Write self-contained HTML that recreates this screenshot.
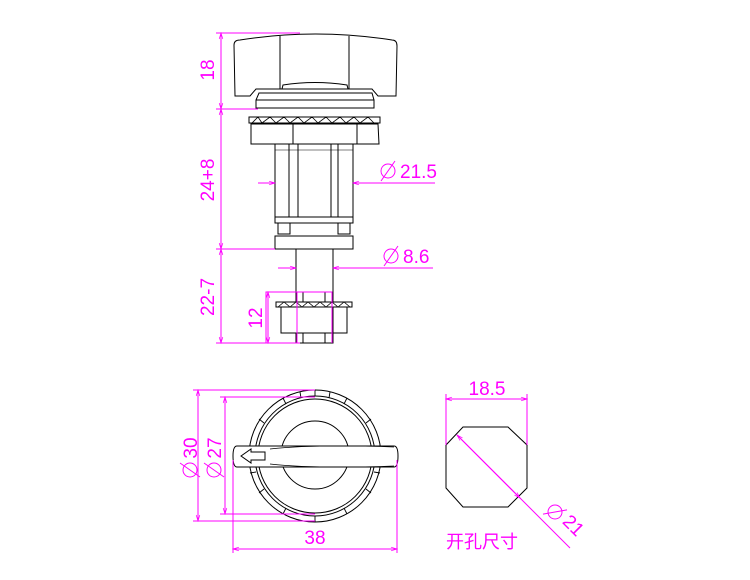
<!DOCTYPE html>
<html><head><meta charset="utf-8"><style>
html,body{margin:0;padding:0;background:#fff;}
svg{display:block;}
text{font-family:"Liberation Sans Narrow","Liberation Sans","Noto Sans CJK SC",sans-serif;fill:#ff00ff;font-size:19px;}
</style></head><body>
<svg width="750" height="580" viewBox="0 0 750 580" xmlns="http://www.w3.org/2000/svg">
<defs>
<marker id="a" viewBox="0 0 10 10" refX="10" refY="5" markerWidth="8" markerHeight="6" orient="auto-start-reverse" markerUnits="userSpaceOnUse"><path d="M0,2 L10,5 L0,8" fill="none" stroke="#ff00ff" stroke-width="1.2"/></marker>
</defs>
<g fill="none" stroke="#000" stroke-width="1">
<path d="M235,96 L234,45 Q234,40 240,40 Q315,28 392,40 Q397,40 397,46 L396,96 L378,96 L372,89 L256,89 L250,96 Z"/>
<line x1="280" y1="36" x2="280" y2="89"/><line x1="349" y1="36" x2="349" y2="89"/>
<path d="M282,89 L283,85 Q315,80 347,85 L348,89"/>
<path d="M259,93 L372,93 L374,100 L374,108 L256,108 L256,100 Z"/><line x1="256" y1="100" x2="374" y2="100"/>
<rect x="249" y="117" width="131" height="6"/>
<path d="M252,123 L258,117 L262,123 L270,117 L276,123 L284,117 L290,123 L298,117 L304,123 L312,117 L318,123 L326,117 L332,123 L340,117 L346,123 L354,117 L360,123 L368,117 L374,123" stroke-width="0.8"/>
<path d="M251,124 L378,124 L379,144 L251,144 Z"/>
<line x1="293" y1="124" x2="293" y2="144"/><line x1="357" y1="124" x2="357" y2="144"/>
<rect x="275" y="144" width="78" height="73"/>
<line x1="289" y1="144" x2="289" y2="217"/><line x1="298" y1="144" x2="298" y2="217"/>
<line x1="331" y1="144" x2="331" y2="217"/><line x1="338" y1="144" x2="338" y2="217"/>
<line x1="275" y1="150" x2="353" y2="150" stroke-width="0.6"/>
<rect x="275" y="217" width="78" height="6"/>
<rect x="278" y="223" width="12" height="11"/><rect x="338" y="223" width="12" height="11"/>
<rect x="275" y="236" width="78" height="13"/>
<rect x="296" y="249" width="37" height="94"/>
<rect x="303" y="292" width="22" height="51"/>
<rect x="276" y="302" width="76" height="5" fill="#fff"/>
<path d="M278,307 L284,302 L290,307 L296,302 L302,307 L308,302 L314,307 L320,302 L326,307 L332,302 L338,307 L344,302 L350,307" stroke-width="0.8"/>
<path d="M281,307 L347,307 L347,333 L281,333 Z" fill="#fff"/>
<line x1="297" y1="307" x2="297" y2="333"/><line x1="333" y1="307" x2="333" y2="333"/>
<rect x="303" y="333" width="22" height="10" fill="#fff"/>
<circle cx="315" cy="456" r="66"/>
<circle cx="315" cy="456" r="60"/>
<circle cx="315" cy="456" r="57"/>
<g stroke-width="0.9">
<line x1="315" y1="390" x2="315" y2="396"/><line x1="315" y1="522" x2="315" y2="516"/>
<line x1="283" y1="398" x2="286" y2="404"/><line x1="347" y1="398" x2="344" y2="404"/>
<line x1="259" y1="419" x2="264" y2="423"/><line x1="371" y1="419" x2="366" y2="423"/>
<line x1="259" y1="493" x2="264" y2="489"/><line x1="371" y1="493" x2="366" y2="489"/>
<line x1="283" y1="514" x2="286" y2="508"/><line x1="347" y1="514" x2="344" y2="508"/>
<line x1="300" y1="392" x2="301" y2="398"/><line x1="330" y1="392" x2="329" y2="398"/>
<line x1="250" y1="473" x2="256" y2="472"/><line x1="380" y1="473" x2="374" y2="472"/>
</g>
<circle cx="315" cy="455" r="34" fill="#fff"/>
<path d="M237,446 L394,446 Q398,446 398,456 Q398,467 394,467 L237,467 Q233,467 233,456 Q233,446 237,446 Z" fill="#fff"/>
<path d="M270,449 Q315,444 394,447 M270,464 Q315,469 394,466" stroke-width="0.7"/>
<path d="M241,456 L251,449 L251,452 L265,452 L265,460 L251,460 L251,463 Z"/>
<path d="M463,427 L508,427 L527,445 L527,488 L508,507 L463,507 L446,488 L446,445 Z"/>
</g>
<g stroke="#ff00ff" stroke-width="1" fill="none">
<line x1="221" y1="33" x2="221" y2="343"/>
<line x1="216" y1="33" x2="300" y2="33"/>
<line x1="216" y1="109" x2="258" y2="109"/>
<line x1="216" y1="249" x2="275" y2="249"/>
<line x1="216" y1="343" x2="300" y2="343"/>
<line x1="221" y1="40" x2="221" y2="33" marker-end="url(#a)"/>
<line x1="221" y1="100" x2="221" y2="109" marker-end="url(#a)"/>
<line x1="221" y1="118" x2="221" y2="109" marker-end="url(#a)"/>
<line x1="221" y1="240" x2="221" y2="249" marker-end="url(#a)"/>
<line x1="221" y1="258" x2="221" y2="249" marker-end="url(#a)"/>
<line x1="221" y1="334" x2="221" y2="343" marker-end="url(#a)"/>
<line x1="258" y1="183" x2="275" y2="183" marker-end="url(#a)"/>
<line x1="435" y1="183" x2="353" y2="183" marker-end="url(#a)"/>
<line x1="278" y1="268" x2="296" y2="268" marker-end="url(#a)"/>
<line x1="433" y1="268" x2="333" y2="268" marker-end="url(#a)"/>
<path d="M266,343 L266,292 L332,292 L332,343 M297,292 L297,343"/>
<line x1="268" y1="300" x2="268" y2="292" marker-end="url(#a)"/>
<line x1="268" y1="334" x2="268" y2="343" marker-end="url(#a)"/>
<line x1="268" y1="292" x2="268" y2="343"/>
<line x1="193" y1="390" x2="315" y2="390"/>
<line x1="193" y1="521" x2="315" y2="521"/>
<line x1="198" y1="390" x2="198" y2="521" marker-start="url(#a)" marker-end="url(#a)"/>
<line x1="220" y1="397" x2="315" y2="397"/>
<line x1="220" y1="514" x2="315" y2="514"/>
<line x1="225" y1="397" x2="225" y2="514" marker-start="url(#a)" marker-end="url(#a)"/>
<line x1="233" y1="460" x2="233" y2="553"/>
<line x1="397" y1="460" x2="397" y2="553"/>
<line x1="233" y1="549" x2="397" y2="549" marker-start="url(#a)" marker-end="url(#a)"/>
<line x1="446" y1="394" x2="446" y2="445"/>
<line x1="527" y1="394" x2="527" y2="445"/>
<line x1="446" y1="399" x2="527" y2="399" marker-start="url(#a)" marker-end="url(#a)"/>
<line x1="457" y1="435" x2="570" y2="548" />
<line x1="490" y1="468" x2="457" y2="435" marker-end="url(#a)"/>
<line x1="490" y1="468" x2="520" y2="498" marker-end="url(#a)"/>
<!-- diameter symbols -->
<circle cx="388" cy="171" r="7"/><line x1="381" y1="181" x2="395" y2="161"/>
<circle cx="391" cy="256" r="7"/><line x1="384" y1="266" x2="398" y2="246"/>
<g transform="translate(190,470) rotate(-90)"><circle cx="0" cy="0" r="7"/><line x1="-7" y1="10" x2="7" y2="-10"/></g>
<g transform="translate(214,470) rotate(-90)"><circle cx="0" cy="0" r="7"/><line x1="-7" y1="10" x2="7" y2="-10"/></g>
<g transform="translate(555,512) rotate(45)"><circle cx="0" cy="0" r="7"/><line x1="-7" y1="10" x2="7" y2="-10"/></g>
</g>
<g>
<text transform="translate(214,70) rotate(-90)" text-anchor="middle">18</text>
<text transform="translate(214,180) rotate(-90)" text-anchor="middle">24+8</text>
<text transform="translate(214,297) rotate(-90)" text-anchor="middle">22-7</text>
<text transform="translate(262,318) rotate(-90)" text-anchor="middle">12</text>
<text x="400" y="178">21.5</text>
<text x="403" y="263">8.6</text>
<text transform="translate(197,448) rotate(-90)" text-anchor="middle">30</text>
<text transform="translate(221,448) rotate(-90)" text-anchor="middle">27</text>
<text x="315" y="544" text-anchor="middle">38</text>
<text x="487" y="395" text-anchor="middle">18.5</text>
<text transform="translate(569,530) rotate(45)" text-anchor="middle">21</text>
<text x="446" y="548" style="font-size:18px">开孔尺寸</text>
</g>
</svg>
</body></html>
